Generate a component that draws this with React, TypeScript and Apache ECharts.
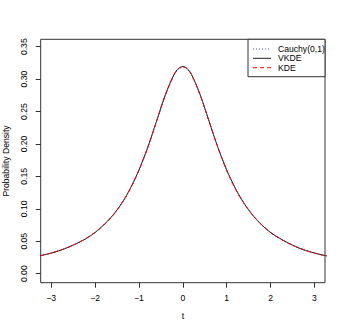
import React, { useEffect, useRef } from "react";
import * as echarts from "echarts";

const tVals = [-3.4, -3.2, -3.0, -2.8, -2.6, -2.4, -2.2, -2.0, -1.8, -1.6, -1.4, -1.2, -1.0, -0.8, -0.6, -0.4, -0.2, -0.1, 0.0, 0.1, 0.2, 0.4, 0.6, 0.8, 1.0, 1.2, 1.4, 1.6, 1.8, 2.0, 2.2, 2.4, 2.6, 2.8, 3.0, 3.2, 3.4];
const cauchy = [0.0253, 0.0283, 0.0318, 0.036, 0.041, 0.0471, 0.0545, 0.0637, 0.0751, 0.0894, 0.1075, 0.1305, 0.1592, 0.1941, 0.234, 0.2744, 0.3061, 0.3152, 0.3183, 0.3152, 0.3061, 0.2744, 0.234, 0.1941, 0.1592, 0.1305, 0.1075, 0.0894, 0.0751, 0.0637, 0.0545, 0.0471, 0.041, 0.036, 0.0318, 0.0283, 0.0253];
const vkde = [0.0255, 0.0285, 0.0317, 0.0358, 0.0412, 0.0473, 0.0543, 0.0635, 0.0754, 0.0898, 0.108, 0.131, 0.16, 0.195, 0.2352, 0.2758, 0.3075, 0.3165, 0.3195, 0.3162, 0.307, 0.275, 0.2346, 0.1945, 0.1598, 0.1312, 0.108, 0.0897, 0.0749, 0.0634, 0.0548, 0.0474, 0.0408, 0.0357, 0.0319, 0.0286, 0.0256];
const kde = [0.0252, 0.0284, 0.0319, 0.0361, 0.0409, 0.047, 0.0547, 0.0639, 0.075, 0.0892, 0.1077, 0.1308, 0.1596, 0.1946, 0.2345, 0.275, 0.3068, 0.3159, 0.319, 0.3157, 0.3066, 0.2748, 0.2344, 0.1944, 0.1594, 0.1303, 0.1078, 0.0896, 0.0752, 0.0636, 0.0546, 0.047, 0.0411, 0.0359, 0.0317, 0.0284, 0.0254];
const xTicks = [-3, -2, -1, 0, 1, 2, 3];
const yTicks = [0, 0.05, 0.1, 0.15, 0.2, 0.25, 0.3, 0.35];
const seriesNames = ["Cauchy(0,1)", "VKDE", "KDE"];

const FONT = "Liberation Sans, Arial, Helvetica, sans-serif";
const FS = 8.6;

export default function App() {
  const ref = useRef<HTMLDivElement>(null);
  useEffect(() => {
    if (!ref.current) return;
    const chart = echarts.init(ref.current, null, { renderer: "svg" });
    const pair = (ys: number[]) => tVals.map((t, i) => [t, ys[i]]);
    const gLeft = 40.7, gRight = 325, gTop = 39.3, gBottom = 282.7;
    const legL = 248, legT = gTop, legB = 76.7;
    const rowY = [49, 58.3, 67.7];
    const styles = [
      { stroke: "#4a4aff", lineDash: [1, 2] },
      { stroke: "#222", lineDash: null },
      { stroke: "#ff0000", lineDash: [4, 3] },
    ];
    const option: any = {
      animation: false,
      grid: {
        left: gLeft,
        top: gTop,
        right: 346 - gRight,
        bottom: 332 - gBottom,
        containLabel: false,
        outerBoundsMode: "none",
        show: true,
        borderColor: "#333",
        borderWidth: 1,
        backgroundColor: "transparent",
      },
      xAxis: {
        type: "value",
        min: -3.24,
        max: 3.24,
        name: "t",
        nameLocation: "middle",
        nameGap: 29,
        nameTextStyle: { fontFamily: FONT, fontSize: FS, color: "#000" },
        axisLine: { show: false, onZero: false },
        splitLine: { show: false },
        axisTick: { show: true, length: 5, inside: false, customValues: xTicks, lineStyle: { color: "#333" } },
        axisLabel: {
          customValues: xTicks,
          margin: 11,
          fontFamily: FONT,
          fontSize: FS,
          color: "#000",
          formatter: (v: number) => (v < 0 ? "\u2212" + Math.abs(v) : String(v)),
        },
      },
      yAxis: {
        type: "value",
        min: -0.0139,
        max: 0.3614,
        name: "Probability Density",
        nameLocation: "middle",
        nameGap: 30,
        nameRotate: 90,
        nameTextStyle: { fontFamily: FONT, fontSize: FS, color: "#000" },
        axisLine: { show: false, onZero: false },
        splitLine: { show: false },
        axisTick: { show: true, length: 5, inside: false, customValues: yTicks, lineStyle: { color: "#333" } },
        axisLabel: {
          customValues: yTicks,
          rotate: 90,
          margin: 12,
          fontFamily: FONT,
          fontSize: FS,
          color: "#000",
          formatter: (v: number) => v.toFixed(2),
        },
      },
      series: [
        {
          name: seriesNames[0],
          type: "line",
          data: pair(cauchy),
          showSymbol: false,
          smooth: 0.3,
          clip: true,
          lineStyle: { color: "#4a4aff", width: 1, type: [1, 2] },
          z: 2,
        },
        {
          name: seriesNames[1],
          type: "line",
          data: pair(vkde),
          showSymbol: false,
          smooth: 0.3,
          clip: true,
          lineStyle: { color: "#222", width: 1, type: "solid" },
          z: 3,
        },
        {
          name: seriesNames[2],
          type: "line",
          data: pair(kde),
          showSymbol: false,
          smooth: 0.3,
          clip: true,
          lineStyle: { color: "#ff0000", width: 1, type: [4, 3] },
          z: 4,
        },
      ],
      graphic: [
        {
          type: "rect",
          shape: { x: legL, y: legT, width: gRight - legL, height: legB - legT },
          style: { fill: "#fff", stroke: "#333", lineWidth: 1 },
          z: 100,
        },
        ...seriesNames.flatMap((n, i) => [
          {
            type: "line",
            shape: { x1: 253, y1: rowY[i], x2: 271, y2: rowY[i] },
            style: { stroke: styles[i].stroke, lineWidth: 1, lineDash: styles[i].lineDash },
            z: 101,
          },
          {
            type: "text",
            x: 278,
            y: rowY[i],
            style: { text: n, fontFamily: FONT, fontSize: FS, fill: "#000", verticalAlign: "middle", align: "left" },
            z: 101,
          },
        ]),
      ],
    };
    chart.setOption(option);
    return () => chart.dispose();
  }, []);
  return <div ref={ref} style={{ width: 346, height: 332, position: "absolute", left: 0, top: 0 }} />;
}
